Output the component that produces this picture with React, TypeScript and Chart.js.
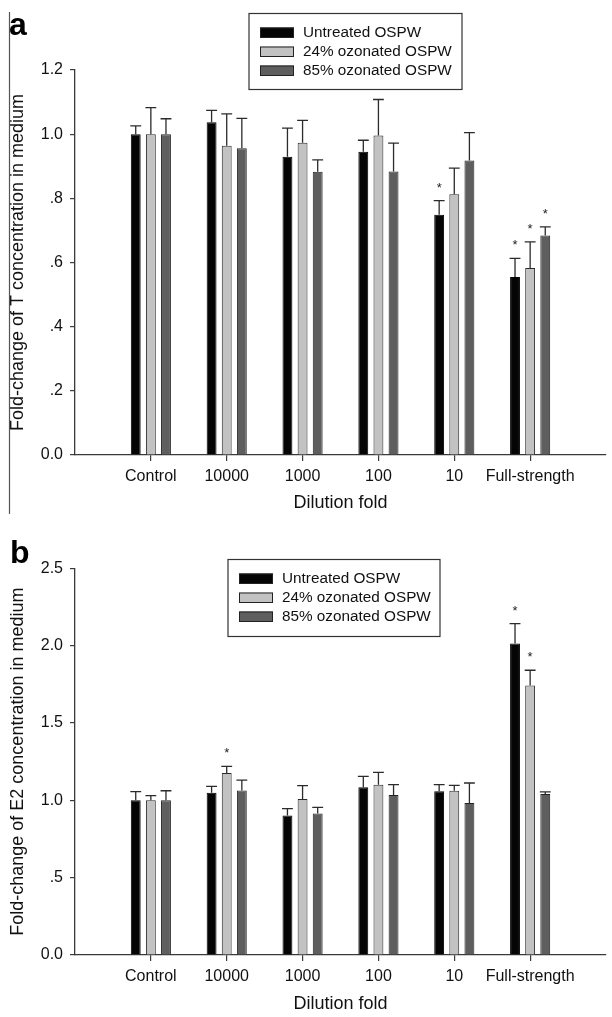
import React, { useEffect, useRef } from 'react';
import { Chart, registerables } from 'chart.js';

Chart.register(...registerables);

const FONT = '"Liberation Sans", Arial, Helvetica, sans-serif';
Chart.defaults.font.family = FONT;
Chart.defaults.color = '#111';

// ---------- data ----------
const categories = ['Control', '10000', '1000', '100', '10', 'Full-strength'];
const seriesNames = ['Untreated OSPW', '24% ozonated OSPW', '85% ozonated OSPW'];

// Panel a: testosterone (T)
const tUntreated = [1.0, 1.037, 0.93, 0.945, 0.749, 0.555];
const tUntreatedErr = [0.026, 0.037, 0.089, 0.036, 0.044, 0.058];
const tOzone24 = [1.0, 0.964, 0.973, 0.996, 0.813, 0.583];
const tOzone24Err = [0.083, 0.099, 0.07, 0.112, 0.081, 0.081];
const tOzone85 = [1.0, 0.956, 0.883, 0.884, 0.918, 0.684];
const tOzone85Err = [0.048, 0.093, 0.037, 0.088, 0.087, 0.027];
const tUntreatedSig = [false, false, false, false, true, true];
const tOzone24Sig = [false, false, false, false, false, true];
const tOzone85Sig = [false, false, false, false, false, true];

// Panel b: estradiol (E2)
const eUntreated = [1.0, 1.049, 0.902, 1.084, 1.058, 2.014];
const eUntreatedErr = [0.056, 0.041, 0.044, 0.071, 0.043, 0.128];
const eOzone24 = [1.0, 1.177, 1.008, 1.101, 1.062, 1.742];
const eOzone24Err = [0.03, 0.043, 0.087, 0.08, 0.034, 0.099];
const eOzone85 = [1.0, 1.064, 0.915, 1.034, 0.982, 1.041];
const eOzone85Err = [0.062, 0.067, 0.039, 0.067, 0.13, 0.013];
const eUntreatedSig = [false, false, false, false, false, true];
const eOzone24Sig = [false, true, false, false, false, true];
const eOzone85Sig = [false, false, false, false, false, false];

const yTicksT = [0, 0.2, 0.4, 0.6, 0.8, 1.0, 1.2];
const yTickLabelsT = ['0.0', '.2', '.4', '.6', '.8', '1.0', '1.2'];
const yTicksE2 = [0, 0.5, 1.0, 1.5, 2.0, 2.5];
const yTickLabelsE2 = ['0.0', '.5', '1.0', '1.5', '2.0', '2.5'];

// ---------- styles ----------
const FILLS = ['#050505', '#c2c2c2', '#5e5e5e'];
const BORDERS = ['#000000', '#2a2a2a', '#222222'];
const AXIS = '#3a3a3a';

const padEnds = (arr: any[]) => [null, ...arr, null];

const errorBarPlugin = {
  id: 'errorBars',
  afterDatasetsDraw(chart: any) {
    const ctx = chart.ctx;
    const y = chart.scales.y;
    chart.data.datasets.forEach((ds: any, di: number) => {
      const meta = chart.getDatasetMeta(di);
      meta.data.forEach((el: any, i: number) => {
        const v = ds.data[i];
        const e = ds.errors[i];
        if (v == null || e == null) return;
        const base = y.getPixelForValue(v);
        const top = y.getPixelForValue(v + e);
        const half = el.width / 2 + 0.5;
        ctx.save();
        ctx.strokeStyle = '#2b2b2b';
        ctx.lineWidth = 1.3;
        ctx.beginPath();
        ctx.moveTo(el.x, base);
        ctx.lineTo(el.x, top);
        ctx.moveTo(el.x - half, top);
        ctx.lineTo(el.x + half, top);
        ctx.stroke();
        if (ds.stars[i]) {
          ctx.fillStyle = '#222';
          ctx.font = `13px ${FONT}`;
          ctx.textAlign = 'center';
          ctx.textBaseline = 'alphabetic';
          ctx.fillText('*', el.x, top - 9);
        }
        ctx.restore();
      });
    });
  },
};

function decorPlugin(spec: any) {
  return {
    id: 'decor',
    afterDraw(chart: any) {
      const ctx = chart.ctx;
      ctx.save();
      ctx.fillStyle = '#000';
      ctx.font = `bold 32px ${FONT}`;
      ctx.textAlign = 'left';
      ctx.textBaseline = 'alphabetic';
      ctx.fillText(spec.letter, spec.letterX, spec.letterY);
      if (spec.frameLine) {
        ctx.strokeStyle = '#555';
        ctx.lineWidth = 1.2;
        ctx.beginPath();
        ctx.moveTo(spec.frameLine.x, spec.frameLine.y0);
        ctx.lineTo(spec.frameLine.x, spec.frameLine.y1);
        ctx.stroke();
      }
      const { x, y, w, h } = spec.legend;
      ctx.strokeStyle = '#333';
      ctx.lineWidth = 1.2;
      ctx.strokeRect(x, y, w, h);
      chart.data.datasets.forEach((ds: any, i: number) => {
        const sy = y + 14 + i * 19;
        ctx.fillStyle = ds.backgroundColor;
        ctx.fillRect(x + 11, sy, 34, 10.5);
        ctx.strokeStyle = '#222';
        ctx.lineWidth = 1;
        ctx.strokeRect(x + 11.5, sy + 0.5, 33, 9.5);
        ctx.fillStyle = '#111';
        ctx.font = `15.3px ${FONT}`;
        ctx.textBaseline = 'middle';
        ctx.fillText(ds.label, x + 54, sy + 5.5);
      });
      ctx.restore();
    },
  };
}

function buildConfig(p: any) {
  const labels = ['', ...categories, ''];
  const datasets = p.series.map((s: any, i: number) => ({
    label: seriesNames[i],
    data: padEnds(s.values),
    errors: padEnds(s.errors),
    stars: padEnds(s.sig),
    backgroundColor: FILLS[i],
    borderColor: BORDERS[i],
    borderWidth: 1,
    categoryPercentage: 0.598,
    barPercentage: 0.653,
  }));
  const lastIndex = labels.length - 1;
  return {
    type: 'bar',
    data: { labels, datasets },
    options: {
      responsive: false,
      animation: false,
      devicePixelRatio: 1,
      layout: { padding: { top: p.padTop, left: 0, right: 0, bottom: 0 } },
      plugins: { legend: { display: false }, title: { display: false }, tooltip: { enabled: false } },
      scales: {
        x: {
          type: 'category',
          offset: false,
          grid: {
            offset: false,
            display: true,
            drawOnChartArea: false,
            drawTicks: true,
            tickLength: 6,
            lineWidth: 1.2,
            tickColor: (c: any) => (c.index === 0 || c.index === lastIndex ? 'rgba(0,0,0,0)' : AXIS),
          },
          border: { display: true, color: AXIS, width: 1.3 },
          ticks: { autoSkip: false, maxRotation: 0, minRotation: 0, padding: 6, font: { size: 16 }, color: '#111' },
          title: { display: true, text: 'Dilution fold', font: { size: 18 }, color: '#111', padding: { top: 0, bottom: p.xTitlePad } },
          afterFit: (s: any) => { s.height = p.xHeight; },
        },
        y: {
          min: p.yTicks[0],
          max: p.yTicks[p.yTicks.length - 1],
          afterBuildTicks: (s: any) => { s.ticks = p.yTicks.map((v: number) => ({ value: v })); },
          grid: { display: true, drawOnChartArea: false, drawTicks: true, tickLength: 5, tickColor: AXIS, lineWidth: 1.2 },
          border: { display: true, color: AXIS, width: 1.3 },
          ticks: {
            padding: 7,
            font: { size: 16 },
            color: '#111',
            callback: (value: number) => {
              const i = p.yTicks.findIndex((t: number) => Math.abs(t - value) < 1e-9);
              return i >= 0 ? p.yTickLabels[i] : '';
            },
          },
          title: { display: true, text: p.yTitle, font: { size: 18 }, color: '#111', padding: { top: 7.7, bottom: 0 } },
          afterFit: (s: any) => { s.width = 75; },
        },
      },
    },
    plugins: [errorBarPlugin, decorPlugin(p.decor)],
  };
}

const panelA = {
  padTop: 70,
  xHeight: 59,
  xTitlePad: 0,
  yTicks: yTicksT,
  yTickLabels: yTickLabelsT,
  yTitle: 'Fold-change of T concentration in medium',
  series: [
    { values: tUntreated, errors: tUntreatedErr, sig: tUntreatedSig },
    { values: tOzone24, errors: tOzone24Err, sig: tOzone24Sig },
    { values: tOzone85, errors: tOzone85Err, sig: tOzone85Sig },
  ],
  decor: {
    letter: 'a', letterX: 9, letterY: 35,
    frameLine: { x: 9.5, y0: 12, y1: 514 },
    legend: { x: 249, y: 13.5, w: 213, h: 76 },
  },
};

const panelB = {
  padTop: 54.3,
  xHeight: 62,
  xTitlePad: 2.2,
  yTicks: yTicksE2,
  yTickLabels: yTickLabelsE2,
  yTitle: 'Fold-change of E2 concentration in medium',
  series: [
    { values: eUntreated, errors: eUntreatedErr, sig: eUntreatedSig },
    { values: eOzone24, errors: eOzone24Err, sig: eOzone24Sig },
    { values: eOzone85, errors: eOzone85Err, sig: eOzone85Sig },
  ],
  decor: {
    letter: 'b', letterX: 10, letterY: 49.3,
    frameLine: null,
    legend: { x: 228, y: 45.5, w: 212, h: 77 },
  },
};

function Panel({ spec, top, height }: { spec: any; top: number; height: number }) {
  const ref = useRef<HTMLCanvasElement>(null);
  useEffect(() => {
    const chart = new Chart(ref.current as HTMLCanvasElement, buildConfig(spec) as any);
    return () => chart.destroy();
  }, [spec]);
  return (
    <canvas
      ref={ref}
      width={612}
      height={height}
      style={{ position: 'absolute', left: 0, top, width: 612, height, display: 'block' }}
    />
  );
}

export default function App() {
  return (
    <div style={{ position: 'absolute', left: 0, top: 0, width: 612, height: 1017, overflow: 'hidden', background: '#fff' }}>
      <Panel spec={panelA} top={0} height={514} />
      <Panel spec={panelB} top={514} height={503} />
    </div>
  );
}
